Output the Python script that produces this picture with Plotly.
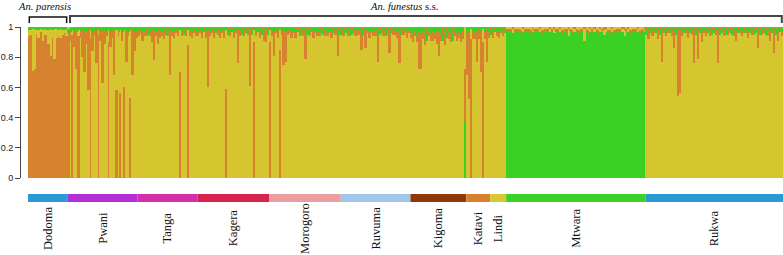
import plotly.graph_objects as go

# ---------------- data ----------------
populations = ["Dodoma", "Pwani", "Tanga", "Kagera", "Morogoro", "Ruvuma",
               "Kigoma", "Katavi", "Lindi", "Mtwara", "Rukwa"]
pop_colors = ["#2a9ad4", "#b030d6", "#d42faa", "#d6244a", "#e99f9f", "#a2c6ea",
              "#8b3a08", "#d8802f", "#d8c932", "#3cd02a", "#2a9ad4"]
cluster_colors = {"orange": "#d6822f", "yellow": "#d5c62f", "green": "#3bd124"}

# ancestry (percent) per individual: orange cluster and green cluster; yellow is the remainder
orange_dodoma = [94, 95, 71, 72, 95, 93, 97, 91, 95, 95, 89, 81, 93, 79, 93, 94, 93, 95, 96, 94]
green_dodoma = [2, 2, 1, 1, 2, 2, 1, 2, 1, 2, 2, 1, 2, 1, 1, 2, 1, 2, 2, 1]

orange_pwani = [96, 6, 95, 10, 25, 94, 4, 18, 27, 8, 40, 92, 13, 3, 22, 95, 6, 35, 8, 3,
                90, 10, 4, 30, 58, 3, 56, 6, 60, 20, 3, 53, 30, 13, 4]
green_pwani = [3, 3, 2, 3, 3, 2, 3, 2, 3, 3, 2, 2, 3, 3, 2, 2, 3, 2, 3, 3,
               2, 3, 3, 2, 2, 3, 2, 3, 2, 3, 3, 2, 2, 3, 3]

orange_tanga = [3, 2, 6, 3, 4, 2, 3, 8, 19, 3, 9, 4, 3, 6, 2, 3, 30, 3, 4, 2,
                3, 70, 3, 2, 4, 88, 3, 4, 2, 3]
green_tanga = [3, 2, 3, 3, 2, 3, 3, 2, 3, 3, 2, 3, 3, 2, 3, 3, 2, 3, 3, 2,
               3, 2, 3, 3, 2, 2, 3, 3, 2, 3]

orange_kagera = [3, 2, 4, 1, 4, 38, 3, 2, 4, 1, 3, 4, 2, 4, 59, 2, 3, 1, 4, 2,
                 22, 3, 2, 4, 1, 3, 37, 2, 90, 3, 1, 4, 2, 7, 8, 2]
green_kagera = [3, 2, 3, 2, 3, 2, 3, 2, 3, 3, 2, 3, 2, 3, 2, 3, 3, 2, 3, 2,
                2, 3, 3, 2, 3, 2, 2, 3, 2, 3, 2, 3, 3, 2, 2, 3]

orange_morogoro = [90, 3, 16, 2, 4, 85, 2, 23, 20, 3, 1, 4, 2, 4, 1, 3, 2, 4, 19, 2,
                   3, 1, 4, 2, 3, 4, 1, 2, 4, 3, 2, 4, 1, 3, 17, 2]
green_morogoro = [2, 3, 3, 2, 3, 2, 3, 2, 3, 2, 3, 3, 2, 3, 2, 3, 3, 2, 2, 3,
                  3, 2, 3, 2, 3, 2, 3, 3, 2, 3, 2, 3, 3, 2, 2, 3]

orange_ruvuma = [2, 4, 1, 3, 4, 2, 1, 4, 2, 3, 12, 2, 12, 1, 4, 2, 3, 4, 21, 2,
                 1, 4, 3, 2, 15, 1, 3, 2, 4, 22, 2, 3, 1, 4, 2]
green_ruvuma = [3, 2, 3, 3, 2, 3, 3, 2, 3, 2, 3, 3, 2, 3, 3, 2, 3, 2, 2, 3,
                3, 2, 3, 3, 2, 3, 2, 3, 3, 2, 3, 2, 3, 3, 2]

orange_kigoma = [4, 6, 3, 5, 25, 24, 5, 8, 4, 3, 5, 6, 4, 8, 16, 5, 4, 9, 3, 5,
                 6, 4, 3, 5, 4, 6, 5, 34]
green_kigoma = [3, 4, 3, 5, 3, 4, 3, 4, 5, 3, 4, 3, 4, 3, 3, 4, 5, 3, 4, 3,
                4, 5, 3, 4, 3, 4, 3, 38]

orange_katavi = [28, 45, 92, 5, 4, 20, 6, 27, 90, 5, 21, 4]
green_katavi = [4, 3, 1, 3, 4, 3, 2, 3, 1, 3, 2, 3]

orange_lindi = [2, 4, 1, 3, 4, 2, 3, 1]
green_lindi = [3, 3, 2, 3, 3, 2, 3, 3]

orange_mtwara = [2, 1, 2, 1, 1, 2, 1, 2, 1, 1,
                 2, 1, 2, 1, 1, 2, 1, 1, 2, 1,
                 2, 1, 1, 2, 1, 2, 1, 1, 2, 1,
                 2, 1, 1, 2, 1, 1, 2, 1, 2, 1,
                 1, 2, 1, 2, 1, 1, 2, 1, 1, 2,
                 1, 2, 1, 1, 2, 1, 2, 1, 1, 2,
                 1, 1, 2, 1, 2, 1, 1, 2, 1, 1]
green_mtwara = [97, 98, 97, 96, 98, 97, 98, 96, 97, 98,
                97, 98, 96, 97, 98, 97, 98, 97, 96, 98,
                97, 98, 97, 97, 96, 97, 98, 97, 96, 98,
                97, 94, 98, 96, 97, 98, 96, 98, 97, 91,
                98, 96, 97, 97, 97, 98, 96, 97, 98, 95,
                97, 96, 98, 97, 96, 98, 97, 98, 97, 94,
                98, 97, 96, 98, 97, 98, 97, 96, 98, 97]

orange_rukwa = [2, 6, 1, 3, 2, 1, 6, 2, 21, 1,
                3, 2, 1, 4, 11, 2, 44, 42, 3, 1,
                2, 4, 1, 3, 22, 2, 19, 1, 7, 2,
                3, 1, 4, 2, 1, 3, 22, 2, 1, 4,
                2, 3, 1, 2, 4, 6, 1, 2, 3, 1,
                2, 4, 1, 3, 2, 1, 12, 2, 3, 1,
                2, 4, 6, 1, 15, 2, 6, 1, 3]
green_rukwa = [3, 2, 3, 3, 2, 3, 2, 3, 2, 3,
               3, 2, 3, 2, 3, 3, 2, 2, 3, 3,
               2, 3, 3, 2, 2, 3, 2, 3, 3, 2,
               3, 3, 2, 3, 3, 2, 2, 3, 3, 2,
               3, 2, 3, 3, 2, 3, 3, 2, 3, 3,
               2, 3, 3, 2, 3, 3, 2, 3, 2, 3,
               3, 2, 3, 3, 2, 3, 3, 2, 3]

yticks = [0, 0.2, 0.4, 0.6, 0.8, 1]
ytick_labels = ["0", "0.2", "0.4", "0.6", "0.8", "1"]

orange_by_pop = [orange_dodoma, orange_pwani, orange_tanga, orange_kagera, orange_morogoro,
                 orange_ruvuma, orange_kigoma, orange_katavi, orange_lindi, orange_mtwara, orange_rukwa]
green_by_pop = [green_dodoma, green_pwani, green_tanga, green_kagera, green_morogoro,
                green_ruvuma, green_kigoma, green_katavi, green_lindi, green_mtwara, green_rukwa]

# ---------------- build stacked layers (largest component at the bottom) ----------------
xs = []
layers = [[], [], []]
layer_cols = [[], [], []]
starts = []
idx = 0
for o_list, g_list in zip(orange_by_pop, green_by_pop):
    starts.append(idx)
    for o, g in zip(o_list, g_list):
        y = 100 - o - g
        comps = sorted([(o, "orange"), (y, "yellow"), (g, "green")], key=lambda t: -t[0])
        for k, (v, c) in enumerate(comps):
            layers[k].append(v / 100.0)
            layer_cols[k].append(cluster_colors[c])
        xs.append(idx)
        idx += 1
N = idx
ends = starts[1:] + [N]

fig = go.Figure()
for k in range(3):
    fig.add_trace(go.Bar(x=xs, y=layers[k], width=1,
                         marker=dict(color=layer_cols[k], line=dict(width=0)),
                         hoverinfo="skip", showlegend=False))

# ---------------- layout geometry ----------------
W, H = 783, 255
ml, mt, mb = 20, 27, 77
plot_h = H - mt - mb
xdom0 = 8 / (W - ml)

def py(px_y):
    return (H - mb - px_y) / plot_h

shapes = []
annotations = []
for name, col, s, e in zip(populations, pop_colors, starts, ends):
    shapes.append(dict(type="rect", xref="x", yref="paper", x0=s - 0.5, x1=e - 0.5,
                       y0=py(202), y1=py(194), fillcolor=col, line=dict(width=0), layer="above"))
    annotations.append(dict(x=(s + e - 1) / 2, y=py(228), xref="x", yref="paper", text=name,
                            textangle=-90, showarrow=False, xanchor="center", yanchor="middle",
                            font=dict(family="Liberation Serif", size=12.5, color="#111")))

# species brackets
b1x0, b1x1 = starts[0] - 0.5 + 0.65, ends[0] - 0.5 - 0.6
b2x0, b2x1 = ends[0] - 0.5 + 1.1, N - 0.5 - 0.6
shapes.append(dict(type="path", xref="x", yref="paper",
                   path=f"M {b1x0},{py(23)} L {b1x0},{py(17)} L {b1x1},{py(17)} L {b1x1},{py(23)}",
                   line=dict(color="#111", width=1.5)))
shapes.append(dict(type="path", xref="x", yref="paper",
                   path=f"M {b2x0},{py(23)} L {b2x0},{py(16)} L {b2x1},{py(16)} L {b2x1},{py(23)}",
                   line=dict(color="#444", width=2)))
annotations.append(dict(x=8, y=py(6.5), xref="x", yref="paper", text="<i>An. parensis</i>",
                        showarrow=False, xanchor="center", yanchor="middle",
                        font=dict(family="Liberation Serif", size=10.5, color="#111")))
annotations.append(dict(x=188, y=py(6.5), xref="x", yref="paper", text="<i>An. funestus</i> s.s.",
                        showarrow=False, xanchor="center", yanchor="middle",
                        font=dict(family="Liberation Serif", size=10.5, color="#111")))

fig.update_layout(
    width=W, height=H,
    margin=dict(l=ml, r=0, t=mt, b=mb, pad=0),
    barmode="stack", bargap=0,
    plot_bgcolor="white", paper_bgcolor="white",
    shapes=shapes, annotations=annotations,
    xaxis=dict(range=[-0.5, N - 0.5], domain=[xdom0, 1], visible=False, fixedrange=True),
    yaxis=dict(range=[0, 1], anchor="free", position=0, tickvals=yticks, ticktext=ytick_labels,
               ticks="outside", ticklen=5, tickwidth=1, tickcolor="#444",
               showline=True, linecolor="#444", linewidth=1, showgrid=False, zeroline=False,
               tickfont=dict(family="Liberation Sans", size=9, color="#222"), fixedrange=True),
)

fig.write_html("out.html")
